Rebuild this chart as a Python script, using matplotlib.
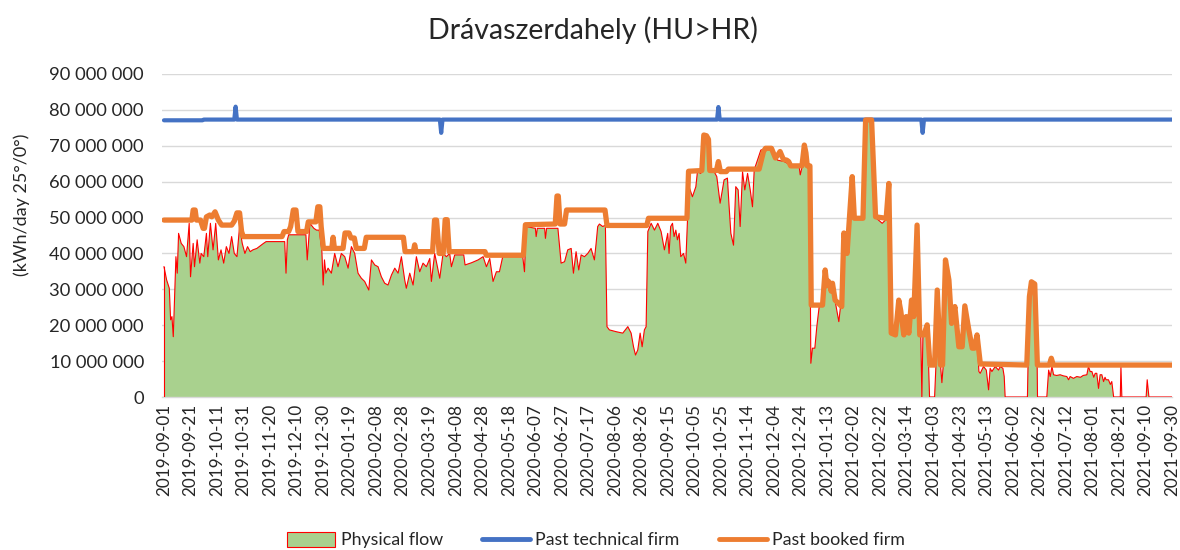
import numpy as np
import matplotlib
matplotlib.use("Agg")
import matplotlib.pyplot as plt
from matplotlib.patches import Patch
from matplotlib.lines import Line2D
from matplotlib.ticker import FuncFormatter

plt.rcParams['font.family'] = ['Lato', 'DejaVu Sans']

TITLE = "Drávaszerdahely (HU>HR)"
Y_LABEL = "(kWh/day 25°/0°)"
SERIES_NAMES = ["Physical flow", "Past technical firm", "Past booked firm"]

# x positions are day offsets from 2019-09-01
tick_days = list(range(0, 761, 20))
tick_labels = [
    "2019-09-01", "2019-09-21", "2019-10-11", "2019-10-31", "2019-11-20",
    "2019-12-10", "2019-12-30", "2020-01-19", "2020-02-08", "2020-02-28",
    "2020-03-19", "2020-04-08", "2020-04-28", "2020-05-18", "2020-06-07",
    "2020-06-27", "2020-07-17", "2020-08-06", "2020-08-26", "2020-09-15",
    "2020-10-05", "2020-10-25", "2020-11-14", "2020-12-04", "2020-12-24",
    "2021-01-13", "2021-02-02", "2021-02-22", "2021-03-14", "2021-04-03",
    "2021-04-23", "2021-05-13", "2021-06-02", "2021-06-22", "2021-07-12",
    "2021-08-01", "2021-08-21", "2021-09-10", "2021-09-30",
]

# values in million kWh/day
tech_days = [0, 29, 30, 53, 54, 55, 208, 209, 210, 417, 418, 419, 571, 572, 573, 760]
tech_vals = [77.1, 77.1, 77.3, 77.3, 80.9, 77.3, 77.3, 73.6, 77.3, 77.3, 80.8, 77.3, 77.3, 73.6, 77.3, 77.3]

booked_days = [
    0, 21, 22, 23.5, 24.5, 27.5, 29.5, 30.5, 32, 34.5, 36, 38.5, 40, 41, 43.5, 51, 53, 55, 57,
    58.5, 59.8, 89, 90.5, 94, 95.5, 97.5, 99.5, 101, 107.5, 108.8, 114.5, 116, 117.5, 118.5,
    120.2, 126.5, 127.5, 128.5, 135, 136.5, 139.5, 141, 143.5, 145, 151, 152.5, 180.5, 181.8,
    188, 189, 190, 202.5, 204, 205.5, 207.5, 210.5, 212, 213.5, 215, 242, 243, 271, 272.5, 295,
    296.3, 297.3, 298.6, 302, 303.5, 332.5, 334, 364, 365.3, 394.3, 395.5, 405.5, 407, 409,
    410.5, 411.5, 416.5, 418, 419.5, 424, 425.5, 448.7, 452, 453.5, 458, 461, 463, 464.5, 467,
    469.5, 471, 472.5, 481, 482.8, 484, 485, 487, 488, 496.5, 498.5, 499.8, 500.8, 502, 503,
    504, 506, 511, 512.6, 515, 518.9, 520.5, 527, 529, 533.5, 536.5, 544.5, 546.5, 548.3,
    551.5, 554, 555.5, 557.8, 559.6, 561.6, 563.6, 565.3, 567.8, 569.8, 572.9, 575.4, 577.5,
    581, 583, 585.5, 587, 589.2, 591.8, 593.8, 596.3, 599.3, 601.8, 603.8, 606.8, 609.4, 611,
    613, 615.5, 650.5, 652.5, 654, 656.5, 658.5, 667.5, 669, 670.5, 760,
]
booked_vals = [
    49.3, 49.3, 52.1, 52.1, 49.3, 49.3, 47.0, 47.0, 50.2, 50.7, 50.2, 51.6, 50.2, 49.3, 47.9, 47.9, 49.0, 51.3, 51.3,
    46.1, 44.7, 44.7, 46.1, 46.1, 47.5, 52.1, 52.1, 46.1, 46.1, 48.8, 48.8, 53.0, 53.0, 47.5,
    41.4, 41.4, 44.5, 41.4, 41.4, 45.7, 45.7, 44.3, 44.3, 41.4, 41.4, 44.5, 44.5, 40.5,
    40.5, 42.4, 40.5, 40.5, 49.3, 49.3, 40.0, 40.0, 49.4, 49.4, 40.5, 40.5, 39.5, 39.5, 48.0, 48.2,
    56.0, 56.0, 48.2, 48.2, 52.1, 52.1, 47.8, 47.8, 49.8, 49.8, 62.9, 63.1, 73.0, 72.8,
    71.8, 63.1, 63.1, 65.6, 62.8, 62.8, 63.5, 63.5, 68.4, 69.3, 69.3, 66.6, 67.5, 68.4, 66.2,
    66.0, 65.6, 64.4, 64.4, 70.2, 68.0, 64.4, 64.4, 25.6, 25.6, 35.4, 31.0, 32.3, 31.7, 29.5,
    31.7, 27.0, 25.2, 45.7, 40.0, 61.4, 49.8, 49.8, 77.2, 77.2, 50.2, 49.8, 59.5, 17.8,
    17.3, 27.0, 24.0, 17.3, 22.4, 17.8, 27.0, 22.4, 47.9, 17.3, 17.3, 20.1, 8.9,
    8.9, 29.8, 8.9, 8.9, 38.2, 32.6, 20.5, 25.2, 14.0, 14.0, 25.4, 18.7, 13.6, 13.6,
    17.3, 9.2, 8.9, 28.0, 32.1, 31.5, 8.9, 8.9, 10.8, 8.9, 8.9,
]

flow_days = [
    0, 2, 4, 5, 6, 7, 9, 10, 11, 13, 15, 17, 19, 20, 22, 23, 25, 27, 28, 30, 32, 33, 35, 37,
    39, 41, 43, 45, 47, 49, 51, 53, 55, 57, 59, 61, 63, 65, 67, 70, 75, 77, 91, 92, 93, 94,
    107, 108, 110, 113, 115, 117, 119, 120, 121, 122,
    123.7, 126.2, 128.7, 131.2, 133.7, 136.3, 138.8, 141.3, 143.8, 146.3, 148.8, 151.3, 152.6,
    154.4, 156.4, 158.9, 161.4, 163.9, 166.4, 168.9, 171.5, 174, 176.5, 179, 181.5, 182.7,
    185.3, 187.8, 190.3, 192.8, 195.3, 197.8, 200.4, 201.6, 204.1, 207.9, 210.4, 212.9, 215.4,
    216.7, 219.2, 226, 227, 231.8, 236.8, 240.6, 243.1, 245.6, 248.1, 250.6,
    252.9, 255.4, 270.5, 271.8, 273, 280, 280.6, 281.5, 287, 287.6, 288.5, 297, 299.4, 302,
    304.4, 307, 308.7, 310.7, 312.7, 314.5, 317, 319.5, 322, 324.5, 325.8, 327, 328.3, 330.8,
    332.8, 334, 335.8, 340.9, 345.9, 349.7, 352.2, 354, 355.5, 357.2, 359, 360.5, 362.2, 363.5,
    364.8, 367.3, 369.8, 372.3, 374.8, 377.3, 379.8, 380.8, 382, 383.4, 384.6, 385.9, 387.1,
    388.4, 389.6, 391.7, 393.4, 394.7,
    395.9, 398.4, 401, 402.2, 404.7, 406, 411, 412.3, 414.8, 416.8, 419.3, 422.3, 424.8, 426.1,
    427.4, 429.4, 431.1, 432.9, 434.4, 436.2, 437.9, 440, 442, 443.7, 445, 450, 457.5, 462.6,
    467.6, 472.6, 478.9, 479.7, 481, 482.7, 485.2, 486.7,
    487.7, 488.9, 490.7, 492.2, 494, 496.5, 498.5, 499.8, 500.8, 502, 503, 504, 506, 508.8,
    510, 511, 512.6, 515, 518.9, 520.5, 527, 529, 533.5, 536.5, 541.5, 544.5, 546.5, 548.3,
    551.5, 554, 557.8, 559.6, 561.6, 563.6, 565.3, 567.8, 569.8, 570.6, 571.4, 572.2, 572.9,
    575.4, 576.5, 577.2, 581, 582, 583, 585.5, 586.5, 587.5, 589.2, 591.8, 593.8, 596.3, 599.3,
    601.8, 603.8, 606.8, 609.4, 611, 613, 614.4, 615.4, 617.9, 620, 621.7, 622.9, 624.2, 626.7,
    629.2, 630.5, 632.5, 633.5, 634.2,
    651, 652, 653.2, 654, 656.5, 657.8, 658.6, 665.6, 667, 668.2, 669.5, 670.7, 673, 675.7,
    678, 680.7, 682, 683.2, 685.7, 688.2, 691, 693, 695.8, 697, 698.3, 699.6, 701, 702.1,
    703.3, 704.6, 705.8, 707.1, 708.4, 709.5, 710.3, 712.1, 713.5, 714.6, 716, 721, 721.5,
    722.2, 740.5, 741.3, 742.6, 760,
]
flow_vals = [
    36.3, 32.6, 30.3, 21.5, 22.4, 16.8, 39.1, 34.5, 45.6, 42.8, 41.9, 39.1, 48.4, 33.5, 42.8, 36.3, 43.8, 37.3, 40.0, 39.1, 45.6, 39.1, 48.4, 41.0,
    48.4, 38.2, 41.0, 37.3, 41.9, 40.0, 44.7, 40.0, 39.1, 47.5, 42.8, 40.0, 41.9, 40.5, 41.0, 41.4, 42.8, 43.3, 43.3, 34.5, 43.8, 45.2,
    45.2, 38.2, 48.4, 47.0, 46.5, 46.5, 41.0, 31.2, 38.2, 34.5,
    35.9, 34.5, 40.0, 36.3, 40.0, 39.1, 35.9, 41.9, 40.0, 34.5, 33.1, 32.2, 31.2,
    29.8, 38.2, 36.8, 36.3, 33.5, 31.7, 31.2, 34.0, 35.9, 34.5, 39.1, 32.6, 30.3,
    34.5, 31.2, 39.1, 34.9, 37.3, 36.3, 38.6, 32.2, 40.0, 33.1, 40.0, 39.1, 40.0,
    36.3, 39.6, 39.6, 36.8, 37.4, 38.2, 39.1, 36.3, 38.6, 32.2, 34.9,
    34.9, 39.1, 39.1, 34.9, 47.5, 47.0, 44.7, 47.0, 47.0, 44.2, 47.0, 47.0, 37.3, 37.7,
    41.0, 41.4, 34.5, 40.5, 35.4, 39.6, 39.1, 40.0, 41.4, 38.2, 42.8, 47.5, 48.2, 47.5,
    47.9, 19.6, 18.7, 18.2, 17.8, 19.6, 17.8, 14.0, 11.7, 13.1, 17.8, 14.0, 18.7, 19.6,
    46.1, 48.4, 46.5, 48.4, 46.1, 41.0, 45.6, 40.0, 47.5, 48.4, 44.7, 46.5, 43.8,
    45.6, 39.1, 40.0, 37.3, 49.3,
    58.6, 55.8, 58.6, 62.8, 62.3, 72.5, 72.0, 62.8, 62.8, 61.4, 54.0, 60.5, 61.0, 53.0,
    45.6, 42.3, 58.6, 57.7, 47.5, 62.8, 57.7, 62.3, 57.7, 53.0, 63.3, 68.8, 69.7, 66.0,
    65.6, 64.6, 64.2, 61.9, 64.0, 68.8, 64.2, 64.2,
    9.4, 13.6, 13.6, 19.6, 25.2, 25.4, 35.0, 30.8, 32.0, 31.5, 29.3, 31.5, 26.8, 21.0,
    25.0, 25.0, 45.5, 39.8, 61.0, 49.5, 49.5, 77.0, 77.0, 50.0, 48.4, 49.5, 59.3, 17.6,
    17.0, 26.8, 17.0, 22.2, 17.6, 26.8, 22.2, 47.7, 17.0, 17.0, 0.0, 17.0, 17.0,
    19.9, 8.7, 0.0, 0.0, 8.7, 29.6, 8.7, 4.0, 8.7, 38.0, 32.4, 20.3, 25.0, 13.8,
    13.8, 25.2, 18.5, 13.4, 13.4, 17.1, 7.1, 6.6, 8.5, 7.5, 2.0, 8.0, 7.1, 8.5,
    7.5, 8.5, 8.0, 5.7, 0.0,
    0.0, 20.0, 29.5, 31.5, 31.0, 28.0, 0.0, 0.0, 7.5, 5.7, 8.5, 6.2, 6.0, 6.2,
    5.9, 5.7, 4.8, 5.7, 5.2, 5.7, 5.5, 6.0, 6.2, 8.5, 7.1, 7.1, 5.5, 6.6,
    6.6, 2.4, 6.2, 6.2, 4.3, 5.5, 4.8, 4.8, 3.5, 4.3, 0.0, 0.0, 8.5,
    0.0, 0.0, 4.8, 0.0, 0.0,
]

SCALE = 1e6
GREEN = "#a9d18e"
RED = "#ff0000"
BLUE = "#4472c4"
ORANGE = "#ed7d31"
GRID = "#d9d9d9"
TEXT = "#262626"

W, H = 1180, 550
fig = plt.figure(figsize=(W / 100, H / 100), dpi=100)
ax = fig.add_axes([162 / W, 1 - 397 / H, (1172 - 162) / W, (397 - 74) / H])

fd = np.array(flow_days, dtype=float)
fv = np.array(flow_vals) * SCALE
ax.fill_between(fd, 0, fv, facecolor=GREEN, edgecolor="none", zorder=1)
ax.plot(fd, fv, color=RED, lw=0.8, zorder=3)
ax.plot([fd[0], fd[0]], [0, fv[0]], color=RED, lw=0.8, zorder=3)

ax.plot(tech_days, np.array(tech_vals) * SCALE, color=BLUE, lw=3.0,
        solid_capstyle="round", solid_joinstyle="round", zorder=4)
ax.plot(booked_days, np.array(booked_vals) * SCALE, color=ORANGE, lw=3.8,
        solid_capstyle="round", solid_joinstyle="round", zorder=5)

ax.set_xlim(-1.5, 760)
ax.set_ylim(0, 90 * SCALE)
ax.set_yticks(np.arange(0, 91, 10) * SCALE)
ax.yaxis.set_major_formatter(FuncFormatter(lambda v, p: f"{int(round(v)):,}".replace(",", " ")))
ax.set_xticks(tick_days)
ax.set_xticklabels(tick_labels, rotation=90)
ax.tick_params(axis="x", length=0, pad=5, labelsize=12.3, labelcolor=TEXT)
ax.tick_params(axis="y", length=0, pad=13, labelsize=13.2, labelcolor=TEXT)
ax.grid(axis="y", color=GRID, lw=1.0, zorder=0)
ax.set_axisbelow(True)
for s in ["top", "right", "left"]:
    ax.spines[s].set_visible(False)
ax.spines["bottom"].set_color(GRID)
ax.spines["bottom"].set_linewidth(1.0)

fig.text(593 / W, 1 - 30 / H, TITLE, ha="center", va="center", fontsize=20.5, color=TEXT)
fig.text(22 / W, 1 - 205 / H, Y_LABEL, ha="center", va="center", rotation=90, fontsize=13, color=TEXT)

handles = [
    Patch(facecolor=GREEN, edgecolor=RED, linewidth=0.8),
    Line2D([0], [0], color=BLUE, lw=3.5, solid_capstyle="round"),
    Line2D([0], [0], color=ORANGE, lw=3.5, solid_capstyle="round"),
]
fig.legend(handles, SERIES_NAMES, loc="center", bbox_to_anchor=(596 / W, 1 - 540 / H),
           ncol=3, frameon=False, fontsize=12.8, handlelength=2.7, handleheight=0.9,
           columnspacing=2.2, handletextpad=0.3, labelcolor=TEXT)

fig.savefig("out.png", dpi=100)
